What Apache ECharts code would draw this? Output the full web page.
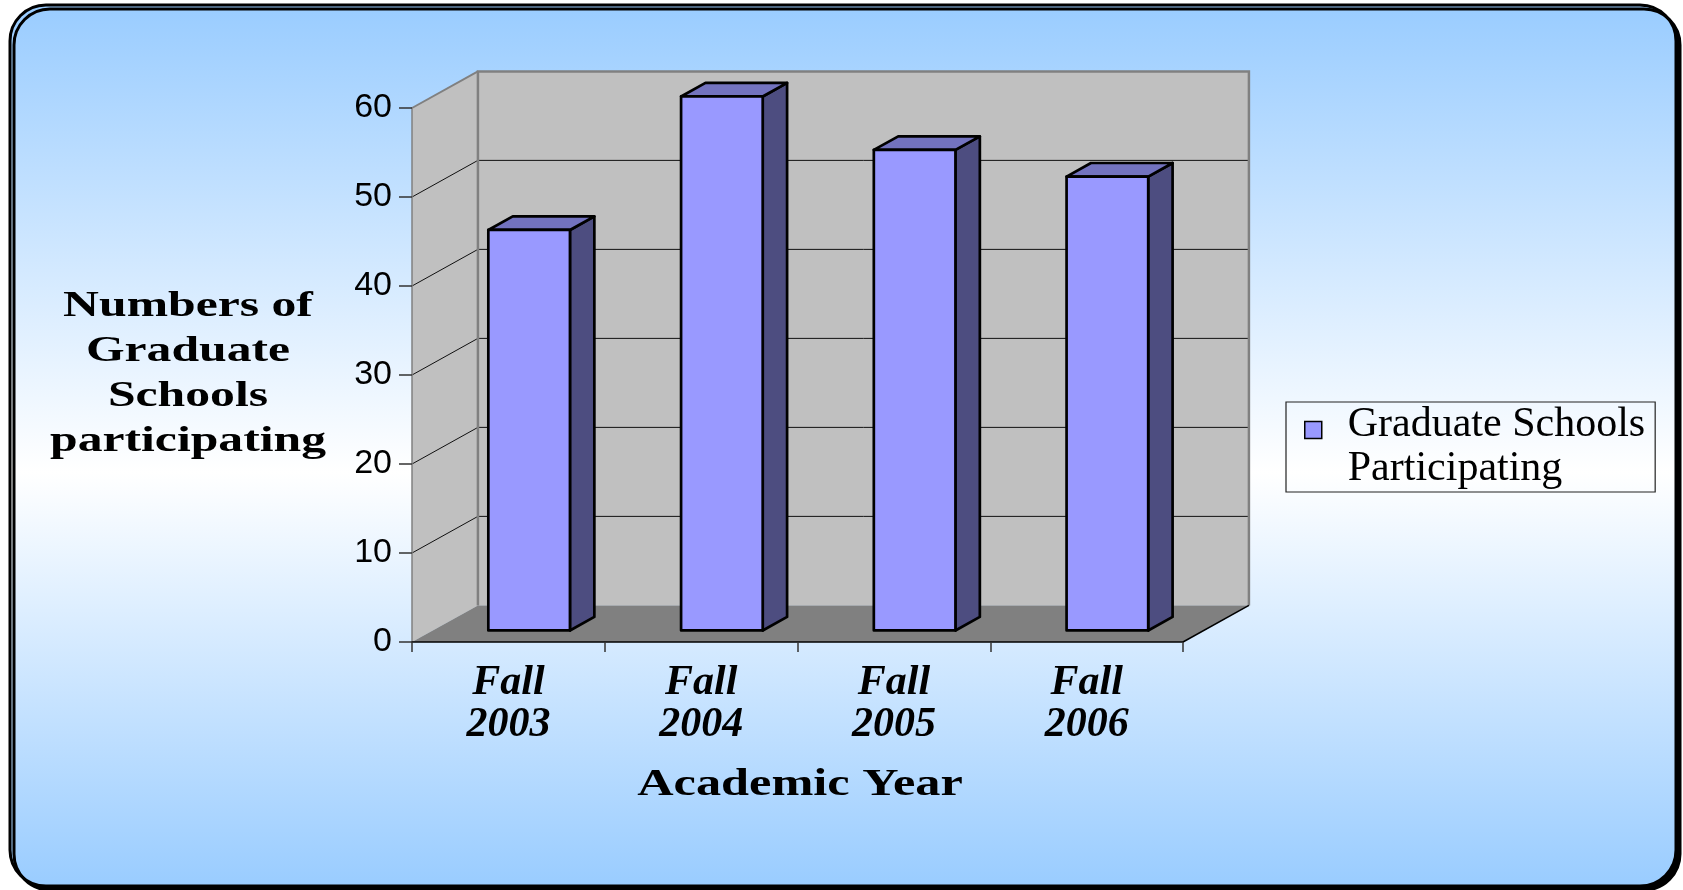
<!DOCTYPE html>
<html><head><meta charset="utf-8">
<script src="https://cdn.jsdelivr.net/npm/echarts@6/dist/echarts.min.js"></script>
<style>html,body{margin:0;padding:0;background:#fff}#c{width:1683px;height:890px}</style>
</head><body><div id="c"></div>
<script>
// ---- data ----
const categories = ['Fall\n2003', 'Fall\n2004', 'Fall\n2005', 'Fall\n2006'];
const values = [45, 60, 54, 51];
const yTicks = [0, 10, 20, 30, 40, 50, 60];
const seriesName = 'Graduate Schools Participating';
const legendLabel = 'Graduate Schools\nParticipating';
const yTitle = 'Numbers of\nGraduate\nSchools\nparticipating';
const xTitle = 'Academic Year';

// ---- 3D look (fractions of category band width) ----
const DEPTH_X = 0.342, DEPTH_Y = 0.19;
const BAR_W = 0.4235, BAR_F0 = 0.315, BAR_F1 = 0.685;

function renderFrame(params, api) {
  const cs = params.coordSys;
  const gx = cs.x, gw = cs.width;
  const bw = api.size([1, 0])[0];
  const dx = bw * DEPTH_X, dy = -bw * DEPTH_Y;
  const y0 = api.coord([0, yTicks[0]])[1];
  const yT = api.coord([0, yTicks[yTicks.length - 1]])[1];
  const xl = gx, xr = gx + gw;
  const ch = [];
  ch.push({type: 'polygon', shape: {points: [[xl + dx, yT + dy], [xr + dx, yT + dy], [xr + dx, y0 + dy], [xl + dx, y0 + dy]]}, style: {fill: '#c0c0c0'}});
  ch.push({type: 'polygon', shape: {points: [[xl, yT], [xl + dx, yT + dy], [xl + dx, y0 + dy], [xl, y0]]}, style: {fill: '#c0c0c0'}});
  ch.push({type: 'polygon', shape: {points: [[xl, y0], [xr, y0], [xr + dx, y0 + dy], [xl + dx, y0 + dy]]}, style: {fill: '#808080'}});
  yTicks.slice(1, -1).forEach(v => {
    const y = api.coord([0, v])[1];
    ch.push({type: 'polyline', shape: {points: [[xl, y], [xl + dx, y + dy], [xr + dx, y + dy]]}, style: {stroke: '#111', lineWidth: 1, fill: null}});
  });
  ch.push({type: 'polyline', shape: {points: [[xl + dx, y0 + dy], [xl + dx, yT + dy], [xr + dx, yT + dy], [xr + dx, y0 + dy]]}, style: {stroke: '#808080', lineWidth: 2.5, fill: null}});
  ch.push({type: 'line', shape: {x1: xl, y1: yT, x2: xl + dx, y2: yT + dy}, style: {stroke: '#808080', lineWidth: 2}});
  ch.push({type: 'line', shape: {x1: xr, y1: y0, x2: xr + dx, y2: y0 + dy}, style: {stroke: '#000', lineWidth: 1.5}});
  return {type: 'group', children: ch};
}

function renderBar(params, api) {
  const ci = api.value(0), v = api.value(1);
  const bw = api.size([1, 0])[0];
  const dx = bw * DEPTH_X, dy = -bw * DEPTH_Y;
  const c0 = api.coord([ci, 0]);
  const c1 = api.coord([ci, v]);
  const w = bw * BAR_W;
  const xl = c0[0] - w / 2 + dx * BAR_F0, xr = xl + w;
  const yb = c0[1] + dy * BAR_F0, yt = c1[1] + dy * BAR_F0;
  const ddx = dx * (BAR_F1 - BAR_F0), ddy = dy * (BAR_F1 - BAR_F0);
  const ln = {stroke: '#000', lineWidth: 2.7, lineJoin: 'round'};
  return {type: 'group', children: [
    {type: 'polygon', shape: {points: [[xr, yt], [xr + ddx, yt + ddy], [xr + ddx, yb + ddy], [xr, yb]]}, style: Object.assign({fill: '#4d4d80'}, ln)},
    {type: 'polygon', shape: {points: [[xl, yt], [xr, yt], [xr + ddx, yt + ddy], [xl + ddx, yt + ddy]]}, style: Object.assign({fill: '#7373bf'}, ln)},
    {type: 'rect', shape: {x: xl, y: yt, width: w, height: yb - yt}, style: Object.assign({fill: '#9999ff'}, ln)}
  ]};
}

const chart = echarts.init(document.getElementById('c'), null, {renderer: 'canvas'});
chart.setOption({
  animation: false,
  grid: {left: 412, right: 500, top: 108, bottom: 248, containLabel: false},
  xAxis: {
    type: 'category', data: categories, boundaryGap: true,
    axisLine: {show: true, lineStyle: {color: '#000', width: 1.5}},
    axisTick: {show: true, length: 10, lineStyle: {color: '#333', width: 1.5}},
    axisLabel: {interval: 0, margin: 20, fontFamily: 'Liberation Serif', fontSize: 42, fontWeight: 'bold', fontStyle: 'italic', lineHeight: 42, color: '#000'},
    splitLine: {show: false}
  },
  yAxis: {
    type: 'value', min: yTicks[0], max: yTicks[yTicks.length - 1], interval: yTicks[1] - yTicks[0],
    axisLine: {show: true, lineStyle: {color: '#808080', width: 1.5}},
    axisTick: {show: true, length: 13, lineStyle: {color: '#333', width: 1.5}},
    axisLabel: {margin: 20, fontFamily: 'Liberation Sans', fontSize: 34, color: '#000'},
    splitLine: {show: false}
  },
  legend: {
    data: [{name: seriesName, icon: 'path://M0,0M0,5h17v17h-17zM38,61', itemStyle: {color: '#9999ff', borderColor: '#000', borderWidth: 1.5}}],
    left: 1286, top: 402, orient: 'vertical',
    itemWidth: 38, itemHeight: 61,
    padding: [1, 10, 1, 18],
    borderColor: '#222', borderWidth: 1.2,
    selectedMode: false,
    formatter: () => legendLabel,
    textStyle: {fontFamily: 'Liberation Serif', fontSize: 42, lineHeight: 44, color: '#000'}
  },
  graphic: [
    {type: 'rect', z: -100, silent: true, shape: {x: 10, y: 5, width: 1666, height: 881, r: 36},
      style: {fill: {type: 'linear', x: 0, y: 0, x2: 0, y2: 1, colorStops: [
        {offset: 0, color: '#99ccff'}, {offset: 0.53, color: '#ffffff'}, {offset: 1, color: '#99ccff'}]},
        stroke: '#000', lineWidth: 3, shadowColor: '#000', shadowOffsetX: 4, shadowOffsetY: 4, shadowBlur: 0}},
    {type: 'text', x: 188, y: 374.5, scaleX: 1.38, silent: true,
      style: {text: yTitle, font: 'bold 36px "Liberation Serif"', fill: '#000', align: 'center', verticalAlign: 'middle', lineHeight: 45}},
    {type: 'text', x: 800, y: 785, scaleX: 1.36, silent: true,
      style: {text: xTitle, font: 'bold 37px "Liberation Serif"', fill: '#000', align: 'center', verticalAlign: 'middle'}}
  ],
  series: [
    {type: 'custom', name: 'frame', z: -5, silent: true, clip: false, renderItem: renderFrame, data: [[0, 0]], encode: {x: 0, y: 1}},
    {type: 'custom', name: seriesName, z: 2, clip: false, color: '#9999ff', renderItem: renderBar,
      data: values.map((v, i) => [i, v]), encode: {x: 0, y: 1}}
  ]
});
</script></body></html>
